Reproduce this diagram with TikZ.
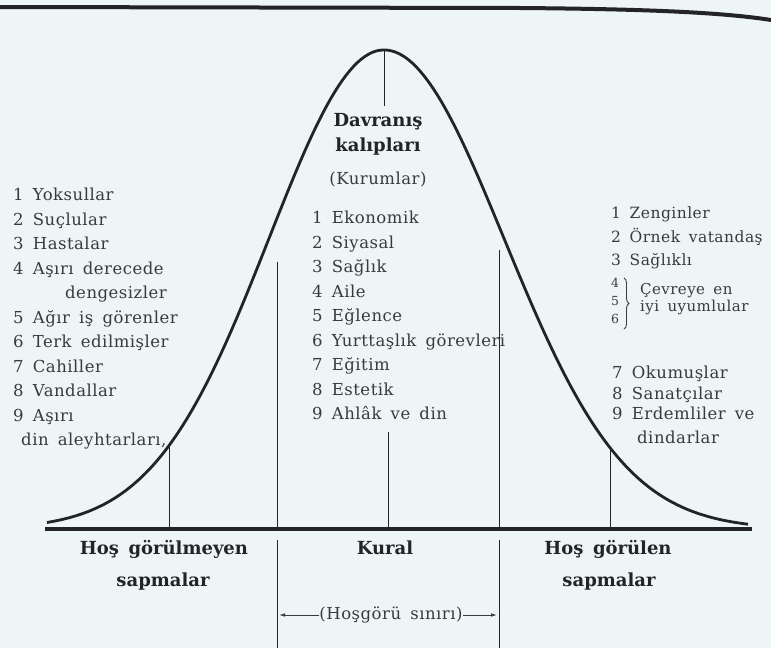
\documentclass[tikz,border=0pt]{standalone}
\usepackage{fontspec}
\setmainfont{DejaVu Serif}[WordSpace=1.5]
\newfontfamily\listfont{DejaVu Serif}[WordSpace=1.6, LetterSpace=3]
\usepackage{xcolor}
\usetikzlibrary{arrows.meta, positioning, decorations.pathreplacing}
\definecolor{paper}{RGB}{238,245,246}
\definecolor{ink}{RGB}{34,36,38}
\definecolor{print}{RGB}{56,59,62}

\begin{document}
\begin{tikzpicture}[x=1pt, y=-1pt,
    curve/.style={draw=ink, line width=2.8pt},
    tick/.style={draw=ink, line width=0.9pt},
    axis/.style={draw=ink, line width=3.6pt},
    item/.style={text=print, inner sep=0pt, align=left, font=\listfont\fontsize{16.5}{24.5}\selectfont},
    head/.style={text=ink, inner sep=0pt, font=\bfseries\fontsize{18}{25}\selectfont},
    side/.style={text=print, inner sep=0pt, font=\listfont\fontsize{16.5}{20}\selectfont},
    arr/.style={-{Latex[length=6pt, width=3.5pt]}, draw=print, line width=0.8pt}
]
\fill[paper] (0,0) rectangle (771,648);
\clip (0,0) rectangle (771,648);

\draw[ink, line width=4pt] (0,7) -- (520,8) .. controls (640,9) and (720,12) .. (771,20);

\draw[curve] plot[domain=47:384, samples=90] (\x, {529-479*exp(-0.5*((\x-384)/115)*((\x-384)/115))});
\draw[curve] plot[domain=384:748, samples=90] (\x, {529-479*exp(-0.5*((\x-384)/120)*((\x-384)/120))});
\draw[axis] (45,529) -- (752,529);

\draw[tick] (384,50) -- (384,106);
\draw[tick] (388,432) -- (388,529);
\draw[tick] (169,446) -- (169,529);
\draw[tick] (610,447) -- (610,529);
\draw[tick] (277,262) -- (277,529);
\draw[tick] (499,250) -- (499,529);
\draw[tick] (277,540) -- (277,648);
\draw[tick] (499,540) -- (499,648);

\node[head] (pattern) at (378,122) {Davranış};
\node[head, below=7pt of pattern] (patternb) {kalıpları};
\node[side] (inst) at (378,180) {(Kurumlar)};

\node[item, anchor=north west] (deviants) at (13,188) {1 Yoksullar\\2 Suçlular\\3 Hastalar\\4 Aşırı derecede\\\hspace*{52pt}dengesizler\\5 Ağır iş görenler\\6 Terk edilmişler\\7 Cahiller\\8 Vandallar\\9 Aşırı\\\hspace*{8pt}din aleyhtarları,};

\node[item, anchor=north west] (norms) at (312,211) {1 Ekonomik\\2 Siyasal\\3 Sağlık\\4 Aile\\5 Eğlence\\6 Yurttaşlık görevleri\\7 Eğitim\\8 Estetik\\9 Ahlâk ve din};

\node[item, anchor=north west, font=\listfont\fontsize{15.5}{23.5}\selectfont] (praised) at (611,207) {1 Zenginler\\2 Örnek vatandaş\\3 Sağlıklı};
\node[item, anchor=north west, font=\listfont\fontsize{12.5}{18}\selectfont] (group) at (611,278) {4\\5\\6};
\draw[print, line width=0.9pt, decorate, decoration={brace, amplitude=5pt}] (624,278) -- (624,329);
\node[item, anchor=north west, font=\listfont\fontsize{15}{17.5}\selectfont] (adapt) at (640,283) {Çevreye en\\iyi uyumlular};
\node[item, anchor=north west, font=\listfont\fontsize{16.5}{20.5}\selectfont] (virtue) at (612,366) {7 Okumuşlar\\8 Sanatçılar\\9 Erdemliler ve\\[3.5pt]\hspace*{25pt}dindarlar};

\node[head, anchor=base] (bad) at (164,554) {Hoş görülmeyen};
\node[head, anchor=base] (badb) at (163,586) {sapmalar};
\node[head, anchor=base] (rule) at (385,554) {Kural};
\node[head, anchor=base] (good) at (608,554) {Hoş görülen};
\node[head, anchor=base] (goodb) at (609,586) {sapmalar};

\node[side] (tol) at (391,615) {(Hoşgörü sınırı)};
\coordinate (tolL) at (279,615);
\coordinate (tolR) at (497,615);
\draw[arr] (tol.west) -- (tolL);
\draw[arr] (tol.east) -- (tolR);
\end{tikzpicture}
\end{document}
